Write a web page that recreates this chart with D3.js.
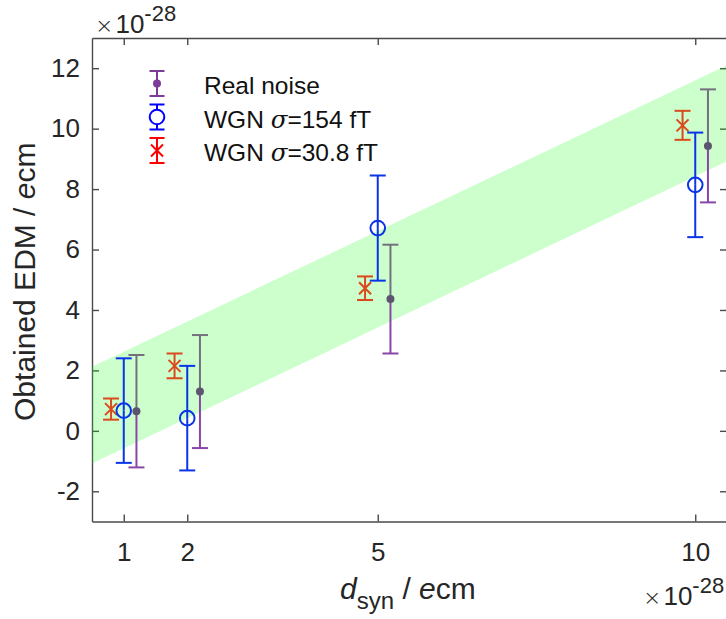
<!DOCTYPE html>
<html>
<head>
<meta charset="utf-8">
<script src="https://cdn.jsdelivr.net/npm/d3@7/dist/d3.min.js"></script>
<style>
  html, body { margin: 0; padding: 0; background: #fff; }
  svg { display: block; font-family: "Liberation Sans", Arial, Helvetica, sans-serif; }
</style>
</head>
<body>
<svg id="chart" width="726" height="619"></svg>
<script>
// Synthetic EDM (x) and obtained EDM (y), both in units of 1e-28 e·cm
const dSyn = [1, 2, 5, 10];

const realMean = [0.65, 1.30, 4.36, 9.43];
const realErr  = [1.86, 1.87, 1.80, 1.87];

const wgn154Mean = [0.67, 0.42, 6.71, 8.14];
const wgn154Err  = [1.73, 1.73, 1.74, 1.73];

const wgn308Mean = [0.72, 2.15, 4.72, 10.11];
const wgn308Err  = [0.35, 0.41, 0.39, 0.48];

// horizontal shift of each series around the nominal d_syn value
const seriesShift = { real: 0.2, wgn154: 0, wgn308: -0.2 };

// expected band (obtained = d_syn ± spread)
const bandX    = [0.5, 10.5];
const bandLow  = [-1.08, 8.92];
const bandHigh = [2.12, 12.1];

const xTicks = [1, 2, 5, 10];
const yTicks = [-2, 0, 2, 4, 6, 8, 10, 12];
const legendLabels = ["Real noise", "WGN σ=154 fT", "WGN σ=30.8 fT"];

const svg = d3.select("#chart");
const L = 92, R = 727, T = 38, B = 521.5;

const x = d3.scaleLinear().domain([0.5, 10.5]).range([L, R]);
const y = d3.scaleLinear().domain([-3, 13]).range([B, T]);

const axisColor = "#4a4a4a";
const textColor = "#262626";
const tickFont = 26;

// axes box with inward ticks on all four sides
const gAx = svg.append("g");
const axB = d3.axisBottom(x).tickValues(xTicks).tickSizeInner(-7).tickSizeOuter(0).tickPadding(21).tickFormat(d3.format("d"));
const axT = d3.axisTop(x).tickValues(xTicks).tickSizeInner(-7).tickSizeOuter(0).tickFormat("");
const axL = d3.axisLeft(y).tickValues(yTicks).tickSizeInner(-7).tickSizeOuter(0).tickPadding(12).tickFormat(d => d < 0 ? "-" + Math.abs(d) : d);
const axR = d3.axisRight(y).tickValues(yTicks).tickSizeInner(-7).tickSizeOuter(0).tickFormat("");

gAx.append("g").attr("transform", `translate(0,${B})`).call(axB);
gAx.append("g").attr("transform", `translate(0,${T})`).call(axT);
gAx.append("g").attr("transform", `translate(${L},0)`).call(axL);
gAx.append("g").attr("transform", `translate(${R},0)`).call(axR);
gAx.selectAll(".domain").attr("stroke", axisColor).attr("stroke-width", 1.4);
gAx.selectAll(".tick line").attr("stroke", axisColor).attr("stroke-width", 1.4);
gAx.selectAll(".tick text").attr("fill", textColor).attr("font-size", tickFont)
  .attr("font-family", "Liberation Sans, Arial, sans-serif");

// translucent expected band over the axes
const clipId = "plotClip";
svg.append("clipPath").attr("id", clipId).append("rect")
  .attr("x", L).attr("y", T).attr("width", R - L).attr("height", B - T);
const bandData = bandX.map((v, i) => ({ x: v, lo: bandLow[i], hi: bandHigh[i] }));
svg.append("path")
  .datum(bandData)
  .attr("clip-path", `url(#${clipId})`)
  .attr("fill", "#00ff00")
  .attr("fill-opacity", 0.2)
  .attr("d", d3.area().x(d => x(d.x)).y0(d => y(d.lo)).y1(d => y(d.hi)));

const cap = 8, lw = 2;
const plot = svg.append("g");

function errBar(g, cx, m, e, colTop, colBot) {
  const yTop = y(m + e), yBot = y(m - e), yM = y(m);
  g.append("line").attr("x1", cx).attr("x2", cx).attr("y1", yTop).attr("y2", yM)
    .attr("stroke", colTop).attr("stroke-width", lw);
  g.append("line").attr("x1", cx).attr("x2", cx).attr("y1", yM).attr("y2", yBot)
    .attr("stroke", colBot).attr("stroke-width", lw);
  g.append("line").attr("x1", cx - cap).attr("x2", cx + cap).attr("y1", yTop).attr("y2", yTop)
    .attr("stroke", colTop).attr("stroke-width", lw);
  g.append("line").attr("x1", cx - cap).attr("x2", cx + cap).attr("y1", yBot).attr("y2", yBot)
    .attr("stroke", colBot).attr("stroke-width", lw);
}
function cross(g, cx, cy, s, col) {
  g.append("path").attr("d", `M${cx - s},${cy - s}L${cx + s},${cy + s}M${cx - s},${cy + s}L${cx + s},${cy - s}`)
    .attr("stroke", col).attr("stroke-width", lw).attr("fill", "none");
}

const red = "#d94a1c", blue = "#0a34e8", purple = "#8a46a6", purpleTop = "#75707f", dotCol = "#5d5570";

// WGN sigma = 30.8 fT
dSyn.forEach((d, i) => {
  const cx = x(d + seriesShift.wgn308);
  errBar(plot, cx, wgn308Mean[i], wgn308Err[i], red, red);
  cross(plot, cx, y(wgn308Mean[i]), 6, red);
});
// WGN sigma = 154 fT
dSyn.forEach((d, i) => {
  const cx = x(d + seriesShift.wgn154);
  errBar(plot, cx, wgn154Mean[i], wgn154Err[i], blue, blue);
  plot.append("circle").attr("cx", cx).attr("cy", y(wgn154Mean[i])).attr("r", 7.3)
    .attr("fill", "none").attr("stroke", blue).attr("stroke-width", lw);
});
// Real noise
dSyn.forEach((d, i) => {
  const cx = x(d + seriesShift.real);
  errBar(plot, cx, realMean[i], realErr[i], purpleTop, purple);
  plot.append("circle").attr("cx", cx).attr("cy", y(realMean[i])).attr("r", 4).attr("fill", dotCol);
});

// legend
const legX = 157, legTextX = 204, legRows = [83.5, 117, 150.5], legFont = 24.5, legHalf = 12.5;
const lg = svg.append("g");
const legCols = ["#7d3c98", "#0000ff", "#ff0000"];
legRows.forEach((ry, i) => {
  const c = legCols[i];
  lg.append("line").attr("x1", legX).attr("x2", legX).attr("y1", ry - legHalf).attr("y2", ry + legHalf)
    .attr("stroke", c).attr("stroke-width", lw);
  [ry - legHalf, ry + legHalf].forEach(yy => lg.append("line")
    .attr("x1", legX - 7.5).attr("x2", legX + 7.5).attr("y1", yy).attr("y2", yy)
    .attr("stroke", c).attr("stroke-width", lw));
  if (i === 0) lg.append("circle").attr("cx", legX).attr("cy", ry).attr("r", 4).attr("fill", c);
  if (i === 1) lg.append("circle").attr("cx", legX).attr("cy", ry).attr("r", 7.3)
    .attr("fill", "#fff").attr("stroke", c).attr("stroke-width", lw);
  if (i === 2) cross(lg, legX, ry, 6, c);
  const t = lg.append("text").attr("x", legTextX).attr("y", ry + 10.5)
    .attr("font-size", legFont).attr("fill", "#111");
  const parts = legendLabels[i].split("σ");
  t.append("tspan").text(parts[0]);
  if (parts.length > 1) {
    t.append("tspan").attr("font-style", "italic").attr("font-family", "DejaVu Serif, serif").text("σ");
    t.append("tspan").text(parts[1]);
  }
});

// exponent labels
function expLabel(px, py) {
  const t = svg.append("text").attr("x", px).attr("y", py).attr("font-size", tickFont).attr("fill", textColor);
  t.append("tspan").attr("font-family", "DejaVu Sans, sans-serif").attr("font-weight", 200)
    .attr("font-size", 22).text("×");
  t.append("tspan").attr("dx", 2).text("10");
  t.append("tspan").attr("dy", -12).attr("font-size", 22).text("-28");
}
expLabel(95, 33);
expLabel(643, 605);

// axis titles
const yl = svg.append("text")
  .attr("transform", `translate(35,${(T + B) / 2 + 2}) rotate(-90)`)
  .attr("text-anchor", "middle").attr("font-size", 30).attr("fill", textColor);
yl.append("tspan").text("Obtained EDM / ");
yl.append("tspan").attr("font-style", "italic").text("e");
yl.append("tspan").text("cm");

const xl = svg.append("text").attr("x", 340).attr("y", 599).attr("font-size", 30).attr("fill", textColor);
xl.append("tspan").attr("font-style", "italic").text("d");
xl.append("tspan").attr("dy", 10).attr("font-size", 24).text("syn");
xl.append("tspan").attr("dy", -10).text(" / ");
xl.append("tspan").attr("font-style", "italic").text("e");
xl.append("tspan").text("cm");
</script>
</body>
</html>
